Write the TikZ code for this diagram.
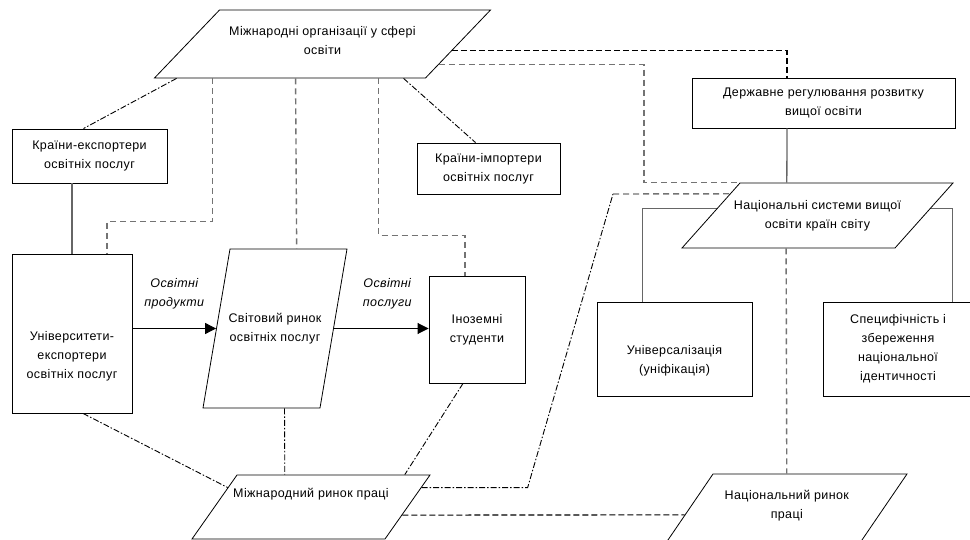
\documentclass[tikz,border=0pt]{standalone}
\usepackage{fontspec}
\setmainfont{Liberation Sans}[LetterSpace=3]
\usetikzlibrary{shapes.geometric,arrows.meta,calc,backgrounds,shadows}

\tikzset{
    box/.style={draw, line width=0.9pt, fill=white, align=center, inner sep=0pt,
        drop shadow={shadow xshift=1.2pt, shadow yshift=-1.2pt, fill=black!45, opacity=1}},
    para/.style={trapezium, draw, line width=0.8pt, fill=white},
    txt/.style={align=center, inner sep=0pt},
    lbl/.style={font=\fontsize{12.5}{19}\selectfont\itshape, align=center, inner sep=0pt},
    dashgray/.style={black!55, line width=1.4pt, dash pattern=on 6pt off 4pt},
    dashblack/.style={line width=1.1pt, dash pattern=on 6pt off 3pt},
    dashdot/.style={line width=0.9pt, dash pattern=on 6pt off 2pt on 1.5pt off 2pt},
    link/.style={black!60, line width=1.3pt},
    flow/.style={line width=0.9pt, -{Triangle[length=11pt,width=11pt]}},
}

\begin{document}
\begin{tikzpicture}[x=1pt, y=-1pt, font=\fontsize{12.5}{19}\selectfont]
    \useasboundingbox (0,0) rectangle (970,540);

    % parallelograms
    \node[para, trapezium left angle=46.29, trapezium right angle=133.71,
        inner xsep=103pt, inner ysep=34pt] (org) at (322.5,44) {};
    \node[txt] (orgtxt) at ([yshift=3pt]org.center) {Міжнародні організації у сфері\\освіти};
    \node[para, trapezium left angle=80.36, trapezium right angle=99.64,
        inner xsep=45pt, inner ysep=79.5pt] (world) at (275,328.5) {};
    \node[txt] (worldtxt) at (world.center) {Світовий ринок\\освітніх послуг};
    \node[para, trapezium left angle=48.26, trapezium right angle=131.74,
        inner xsep=77.5pt, inner ysep=32.5pt] (nsys) at (817.5,215.5) {};
    \node[txt] (nsystxt) at (nsys.center) {Національні системи вищої\\освіти країн світу};
    \node[para, trapezium left angle=54.89, trapezium right angle=125.11,
        inner xsep=74pt, inner ysep=32pt] (mlab) at (311,507) {};
    \node[txt] (mlabtxt) at ([yshift=13pt]mlab.center) {Міжнародний ринок праці};
    \node[para, trapezium left angle=55.69, trapezium right angle=124.31,
        inner xsep=73.8pt, inner ysep=34pt] (nlab) at (786.8,508) {};
    \node[txt] (nlabtxt) at ([yshift=2.5pt]nlab.center) {Національний ринок\\праці};

    % boxes
    \node[box, minimum width=155pt, minimum height=54pt] (kexp) at (89.5,156)
        {Країни-експортери\\освітніх послуг};
    \node[box, minimum width=143pt, minimum height=51pt] (kimp) at (488.5,168.5)
        {Країни-імпортери\\освітніх послуг};
    \node[box, minimum width=263pt, minimum height=50pt] (dreg) at (823.5,103)
        {Державне регулювання розвитку\\вищої освіти};
    \node[box, minimum width=120pt, minimum height=159pt] (univ) at (72,333.5) {};
    \node[txt] (univtxt) at ([yshift=-23pt]univ.center)
        {Університети-\\експортери\\освітніх послуг};
    \node[box, minimum width=96pt, minimum height=107pt] (ifor) at (477,329.5)
        {Іноземні\\студенти};
    \node[box, minimum width=155pt, minimum height=94pt] (univz) at (674.5,349) {};
    \node[txt] (univztxt) at ([yshift=-12pt]univz.center) {Універсалізація\\(уніфікація)};
    \node[box, minimum width=150pt, minimum height=94pt] (spec) at (898,349)
        {Специфічність і\\збереження\\національної\\ідентичності};

    \begin{scope}[on background layer]
        \draw[link] ([xshift=46pt]univz.north west) -- ++(0,-93) -| ([xshift=130pt]spec.north west);
    \end{scope}

    % links from the international organisations
    \draw[dashdot] ([xshift=23pt]org.bottom left corner) -- ([xshift=-6pt]kexp.north);
    \draw[dashgray] ([xshift=59pt]org.bottom left corner) -- ++(0,143) -| ([xshift=35pt]univ.north);
    \draw[dashgray] ([xshift=142pt]org.bottom left corner) -- ([xshift=67pt]world.top left corner);
    \draw[dashgray] ([xshift=225pt]org.bottom left corner) -- ++(0,157) -| ([xshift=-12pt]ifor.north);
    \draw[dashdot] ([xshift=250pt]org.bottom left corner) -- ([xshift=-13pt]kimp.north);
    \draw[dashblack] ($(org.bottom right corner)!0.4!(org.top right corner)$) -| ([xshift=-36.5pt]dreg.north);
    \draw[dashgray] ($(org.bottom right corner)!0.2!(org.top right corner)$) -| ([xshift=-96pt]nsys.top left corner) -- (nsys.top left corner);

    \draw[link] ([xshift=-36.5pt]dreg.south) -- ([xshift=47pt]nsys.top left corner);
    \draw[link] ([xshift=-17.5pt]kexp.south) -- (univ.north);

    % flows
    \draw[flow] (univ.east |- world.left side) -- (world.left side)
        node[lbl, midway, above=19pt] (lprod) {Освітні\\продукти};
    \draw[flow] (world.right side) -- (ifor.west |- world.right side)
        node[lbl, midway, above=19pt, xshift=6pt] (lserv) {Освітні\\послуги};

    % labour markets
    \draw[dashdot] ([xshift=11pt]univ.south) -- ($(mlab.bottom left corner)!0.8!(mlab.top left corner)$);
    \draw[dashdot] ([xshift=82pt]world.bottom left corner) -- ([xshift=48pt]mlab.top left corner);
    \draw[dashdot] ([xshift=-14pt]ifor.south) -- ([xshift=168pt]mlab.top left corner);
    \coordinate (bend) at (613,194);
    \draw[dashdot] ($(mlab.bottom right corner)!0.8!(mlab.top right corner)$) -- ++(106,0) -- (bend);
    \draw[dashgray] (bend) -- ($(nsys.bottom left corner)!0.83!(nsys.top left corner)$);
    \draw[dashblack] ($(mlab.bottom right corner)!0.375!(mlab.top right corner)$)
        -- ($(nlab.bottom left corner)!0.4!(nlab.top left corner)$);
    \draw[dashgray] ([xshift=105pt]nsys.bottom left corner) -- ([xshift=74pt]nlab.top left corner);
\end{tikzpicture}
\end{document}
